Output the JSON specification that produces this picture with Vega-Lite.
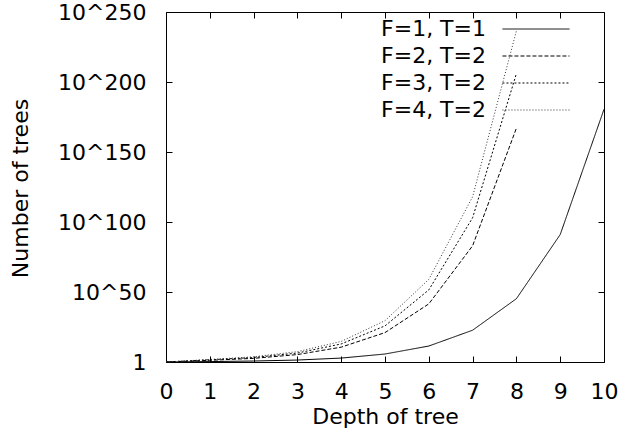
{
  "$schema": "https://vega.github.io/schema/vega-lite/v6.json",
  "width": 438,
  "height": 350,
  "autosize": {"type": "none"},
  "padding": {"left": 166, "top": 12, "right": 15, "bottom": 72},
  "background": "white",
  "config": {
    "font": "DejaVu Sans",
    "view": {"stroke": "black", "strokeWidth": 1},
    "axis": {
      "domain": false,
      "grid": false,
      "tickColor": "black",
      "tickSize": -6,
      "tickWidth": 1,
      "labelFont": "DejaVu Sans",
      "labelFontSize": 22,
      "labelColor": "black",
      "titleFont": "DejaVu Sans",
      "titleFontSize": 22,
      "titleFontWeight": "normal",
      "titleColor": "black"
    }
  },
  "data": {
    "values": [
      {"series": "F=1, T=1", "depth": 0, "exp": 0},
      {"series": "F=1, T=1", "depth": 1, "exp": 0.3},
      {"series": "F=1, T=1", "depth": 2, "exp": 0.7},
      {"series": "F=1, T=1", "depth": 3, "exp": 1.4},
      {"series": "F=1, T=1", "depth": 4, "exp": 2.8},
      {"series": "F=1, T=1", "depth": 5, "exp": 5.7},
      {"series": "F=1, T=1", "depth": 6, "exp": 11.4},
      {"series": "F=1, T=1", "depth": 7, "exp": 22.7},
      {"series": "F=1, T=1", "depth": 8, "exp": 45.2},
      {"series": "F=1, T=1", "depth": 9, "exp": 91},
      {"series": "F=1, T=1", "depth": 10, "exp": 180.5},
      {"series": "F=2, T=2", "depth": 0, "exp": 0},
      {"series": "F=2, T=2", "depth": 1, "exp": 1.2},
      {"series": "F=2, T=2", "depth": 2, "exp": 2.6},
      {"series": "F=2, T=2", "depth": 3, "exp": 5.3},
      {"series": "F=2, T=2", "depth": 4, "exp": 10.6},
      {"series": "F=2, T=2", "depth": 5, "exp": 21},
      {"series": "F=2, T=2", "depth": 6, "exp": 41.5},
      {"series": "F=2, T=2", "depth": 7, "exp": 83},
      {"series": "F=2, T=2", "depth": 8, "exp": 167},
      {"series": "F=3, T=2", "depth": 0, "exp": 0},
      {"series": "F=3, T=2", "depth": 1, "exp": 1.6},
      {"series": "F=3, T=2", "depth": 2, "exp": 3.2},
      {"series": "F=3, T=2", "depth": 3, "exp": 6.4},
      {"series": "F=3, T=2", "depth": 4, "exp": 12.9},
      {"series": "F=3, T=2", "depth": 5, "exp": 25.8},
      {"series": "F=3, T=2", "depth": 6, "exp": 51.5},
      {"series": "F=3, T=2", "depth": 7, "exp": 103},
      {"series": "F=3, T=2", "depth": 8, "exp": 206},
      {"series": "F=4, T=2", "depth": 0, "exp": 0},
      {"series": "F=4, T=2", "depth": 1, "exp": 1.8},
      {"series": "F=4, T=2", "depth": 2, "exp": 3.7},
      {"series": "F=4, T=2", "depth": 3, "exp": 7.4},
      {"series": "F=4, T=2", "depth": 4, "exp": 14.7},
      {"series": "F=4, T=2", "depth": 5, "exp": 29.5},
      {"series": "F=4, T=2", "depth": 6, "exp": 59},
      {"series": "F=4, T=2", "depth": 7, "exp": 118},
      {"series": "F=4, T=2", "depth": 8, "exp": 236.5}
    ]
  },
  "layer": [
    {
      "mark": {"type": "line", "strokeWidth": 1},
      "encoding": {
        "x": {
          "field": "depth", "type": "quantitative",
          "scale": {"domain": [0, 10], "nice": false, "zero": false},
          "axis": {"title": "Depth of tree", "values": [0,1,2,3,4,5,6,7,8,9,10], "labelPadding": 25, "labelFlush": false, "titleX": 219, "titleY": 61, "titleAlign": "center", "titleBaseline": "alphabetic"}
        },
        "y": {
          "field": "exp", "type": "quantitative",
          "scale": {"domain": [0, 250], "nice": false},
          "axis": {"title": "Number of trees", "values": [0,50,100,150,200,250], "labelExpr": "datum.value == 0 ? '1' : '10^' + datum.value", "labelPadding": 26, "titleX": -146, "titleY": 176, "titleAngle": 270, "titleAlign": "center", "titleBaseline": "middle"}
        },
        "strokeDash": {
          "field": "series", "type": "nominal",
          "scale": {"domain": ["F=1, T=1", "F=2, T=2", "F=3, T=2", "F=4, T=2"], "range": [[1, 0], [4, 2], [2, 2], [1, 2]]},
          "legend": {
            "title": null, "orient": "none", "legendX": 359, "legendY": 6,
            "symbolType": "M-5,0H5", "symbolSize": 180, "symbolStrokeWidth": 1,
            "labelAlign": "right", "labelOffset": -61, "labelFontSize": 22, "labelFont": "DejaVu Sans", "labelColor": "black", "labelLimit": 300, "rowPadding": 5
          }
        },
        "stroke": {
          "field": "series", "type": "nominal",
          "scale": {"domain": ["F=1, T=1", "F=2, T=2", "F=3, T=2", "F=4, T=2"], "range": ["black", "black", "black", "#333333"]},
          "legend": {
            "title": null, "orient": "none", "legendX": 359, "legendY": 6,
            "symbolType": "M-5,0H5", "symbolSize": 180, "symbolStrokeWidth": 1,
            "labelAlign": "right", "labelOffset": -61, "labelFontSize": 22, "labelFont": "DejaVu Sans", "labelColor": "black", "labelLimit": 300, "rowPadding": 5
          }
        }
      }
    },
    {
      "mark": {"type": "line", "opacity": 0},
      "encoding": {
        "x": {
          "field": "depth", "type": "quantitative",
          "scale": {"domain": [0, 10], "nice": false, "zero": false},
          "axis": {"orient": "top", "title": null, "labels": false, "values": [0,1,2,3,4,5,6,7,8,9,10]}
        },
        "y": {
          "field": "exp", "type": "quantitative",
          "scale": {"domain": [0, 250], "nice": false},
          "axis": {"orient": "right", "title": null, "labels": false, "values": [0,50,100,150,200,250]}
        },
        "detail": {"field": "series"}
      }
    }
  ],
  "resolve": {"axis": {"x": "independent", "y": "independent"}}
}
